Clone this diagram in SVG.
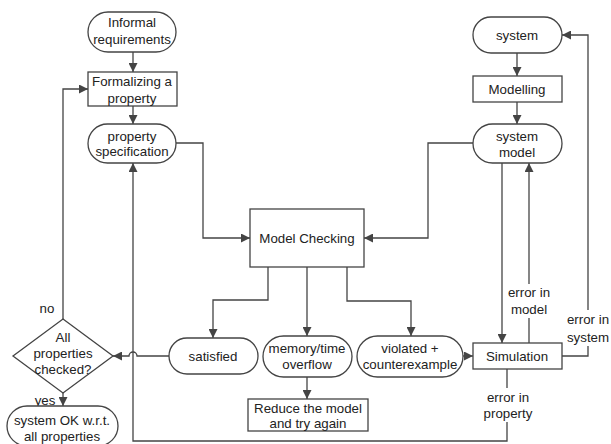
<svg xmlns="http://www.w3.org/2000/svg" width="611" height="444" viewBox="0 0 611 444">
<defs>
<marker id="ah" viewBox="0 0 10 10" refX="10" refY="5" markerWidth="9" markerHeight="9" markerUnits="userSpaceOnUse" orient="auto">
<path d="M0,0 L10,5 L0,10 z" fill="#444"/>
</marker>
<style>
.n{fill:#fff;stroke:#444;stroke-width:1.3}
.c{fill:none;stroke:#444;stroke-width:1.3}
.a{marker-end:url(#ah)}
text{font-family:"Liberation Sans",Arial,sans-serif;font-size:13.3px;fill:#222;text-anchor:middle}
.bg{fill:#fff}
</style>
</defs>
<rect width="611" height="444" fill="#fff"/>
<g id="connectors">
<path class="c a" d="M133,52 V72"/>
<path class="c a" d="M133,106 V124"/>
<path class="c a" d="M176,143 H203 V238 H250"/>
<path class="c a" d="M517,53 V76"/>
<path class="c a" d="M517,102 V124"/>
<path class="c a" d="M473,143 H428 V238 H364"/>
<path class="c a" d="M502,163 V343"/>
<path class="c a" d="M529,343 V163"/>
<path class="c a" d="M562,356 H588 V35 H562"/>
<path class="c a" d="M507,369 V441 H133 V163"/>
<path class="c a" d="M268,267 V300 H213 V338"/>
<path class="c a" d="M307,267 V336"/>
<path class="c a" d="M347,267 V301 H411 V336"/>
<path class="c a" d="M463,356 H473"/>
<path class="c a" d="M307,377 V399"/>
<path class="c a" d="M169,356 H137 A4,4 0 0 0 129,356 H113"/>
<path class="c a" d="M63,319 V89 H88"/>
<path class="c a" d="M63,393 V406"/>
</g>
<g id="labels">
<rect class="bg" x="507" y="284" width="44" height="34"/>
<text x="529" y="297">error in</text>
<text x="529" y="314">model</text>
<rect class="bg" x="566" y="310" width="44" height="36"/>
<text x="588" y="324">error in</text>
<text x="588" y="342">system</text>
<rect class="bg" x="482" y="388" width="52" height="34"/>
<text x="508" y="402">error in</text>
<text x="508" y="418">property</text>
<text x="47" y="313">no</text>
<text x="45" y="405">yes</text>
</g>
<g id="informal"><rect class="n" x="88" y="12" width="88" height="40" rx="20"/><text x="132" y="27">Informal</text><text x="132" y="44">requirements</text></g>
<g id="formalizing"><rect class="n" x="88" y="72" width="89" height="34"/><text x="132" y="86">Formalizing a</text><text x="132" y="103">property</text></g>
<g id="propspec"><rect class="n" x="88" y="124" width="88" height="39" rx="19.5"/><text x="132" y="141">property</text><text x="132" y="156">specification</text></g>
<g id="system"><rect class="n" x="473" y="17" width="89" height="36" rx="18"/><text x="517" y="40">system</text></g>
<g id="modelling"><rect class="n" x="473" y="76" width="89" height="26"/><text x="517" y="94">Modelling</text></g>
<g id="sysmodel"><rect class="n" x="473" y="124" width="89" height="39" rx="19.5"/><text x="517" y="141">system</text><text x="517" y="157">model</text></g>
<g id="mc"><rect class="n" x="250" y="209" width="114" height="58"/><text x="307" y="243">Model Checking</text></g>
<g id="satisfied"><rect class="n" x="169" y="338" width="89" height="36" rx="18"/><text x="213" y="361">satisfied</text></g>
<g id="memory"><rect class="n" x="263" y="336" width="89" height="41" rx="20.5"/><text x="307" y="353">memory/time</text><text x="307" y="369">overflow</text></g>
<g id="violated"><rect class="n" x="357" y="336" width="106" height="41" rx="20.5"/><text x="410" y="353">violated +</text><text x="410" y="369">counterexample</text></g>
<g id="simulation"><rect class="n" x="473" y="343" width="89" height="26"/><text x="517" y="361">Simulation</text></g>
<g id="reduce"><rect class="n" x="248" y="399" width="120" height="32"/><text x="308" y="413">Reduce the model</text><text x="308" y="428">and try again</text></g>
<g id="decision"><path class="n" d="M63,319 L113,356 L63,393 L13,356 z"/><text x="63" y="342">All</text><text x="63" y="358">properties</text><text x="63" y="374">checked?</text></g>
<g id="ok"><rect class="n" x="7" y="406" width="111" height="40" rx="20"/><text x="62" y="425">system OK w.r.t.</text><text x="62" y="441">all properties</text></g>
</svg>
